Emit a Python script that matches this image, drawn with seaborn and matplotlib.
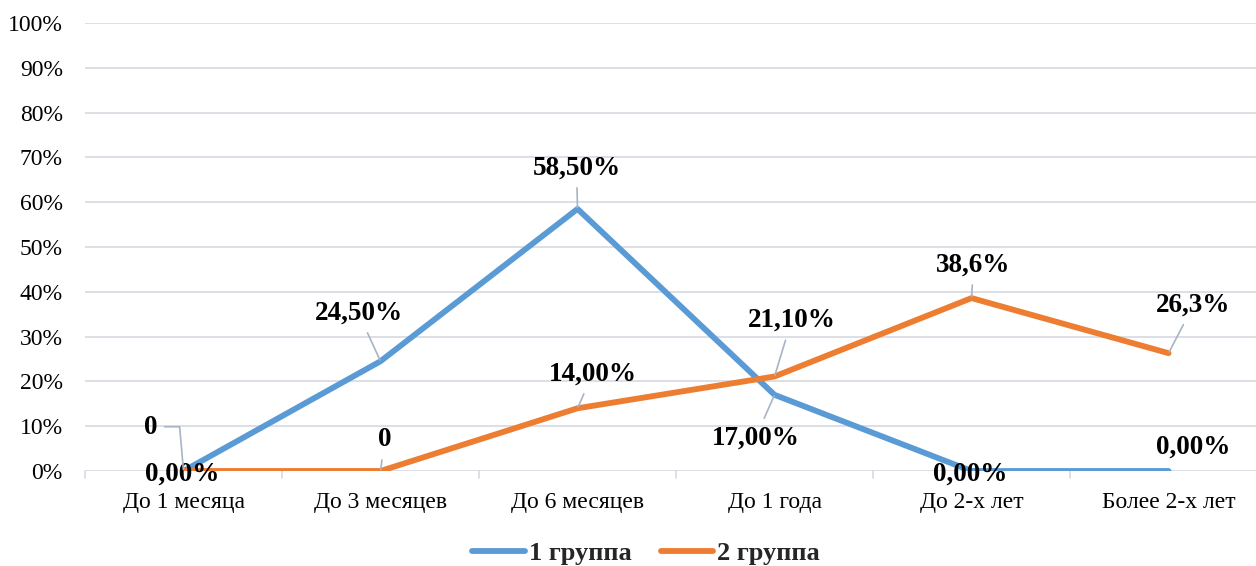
import matplotlib
matplotlib.use("Agg")
import matplotlib.pyplot as plt
import seaborn as sns
import pandas as pd
from matplotlib.lines import Line2D

categories = ["До 1 месяца", "До 3 месяцев", "До 6 месяцев",
              "До 1 года", "До 2-х лет", "Более 2-х лет"]
group1 = [0.0, 24.5, 58.5, 17.0, 0.0, 0.0]
group2 = [0.0, 0.0, 14.0, 21.1, 38.6, 26.3]
group1_labels = ["0,00%", "24,50%", "58,50%", "17,00%", "0,00%", "0,00%"]
group2_labels = ["0", "0", "14,00%", "21,10%", "38,6%", "26,3%"]
series_names = ["1 группа", "2 группа"]
y_ticks = [0, 10, 20, 30, 40, 50, 60, 70, 80, 90, 100]

BLUE = "#5B9BD5"
ORANGE = "#ED7D31"
GRID = "#D9DDE4"
LEADER = "#A6B4C6"

sns.set_theme(style="white")
plt.rcParams["font.family"] = ["Liberation Serif", "DejaVu Serif"]

df = pd.DataFrame({
    "cat": list(range(len(categories))) * 2,
    "value": group1 + group2,
    "series": [series_names[0]] * len(categories) + [series_names[1]] * len(categories),
})

fig = plt.figure(figsize=(12.56, 5.66), dpi=100)
ax = fig.add_axes([85 / 1256, 1 - 471 / 566, 1 - 85 / 1256, 448 / 566])

sns.lineplot(data=df, x="cat", y="value", hue="series",
             palette=[BLUE, ORANGE], linewidth=4.2, ax=ax,
             legend=False, solid_capstyle="round", solid_joinstyle="round",
             zorder=3)

ax.set_xlim(-0.5, 5.444)
ax.set_ylim(0, 100)
ax.set_yticks(y_ticks)
ax.set_yticklabels([f"{t}%" for t in y_ticks], fontsize=17)
ax.set_xticks(range(len(categories)))
ax.set_xticklabels(categories, fontsize=17)
ax.set_xlabel("")
ax.set_ylabel("")
ax.tick_params(axis="both", length=0, colors="#000000")
ax.tick_params(axis="y", pad=16)
ax.tick_params(axis="x", pad=15)

# gridlines
for t in y_ticks:
    ax.axhline(t, color=GRID, linewidth=1.3, zorder=1)
# category boundary tick marks below the axis
for b in [i - 0.5 for i in range(len(categories) + 1)]:
    ax.plot([b, b], [0, -1.6], color=GRID, linewidth=1.3, clip_on=False, zorder=1)

for s in ax.spines.values():
    s.set_visible(False)

# data labels: offsets in pixels from the point
g1_off = [(-1, -3), (-22, 48), (-1, 41), (-19, -43), (-1, -3), (25, 24)]
g1_lead = [None, "arc3", "arc3", "arc3", None, None]
g2_off = [(-33, 43), (4, 31), (15, 34), (17, 56), (2, 33), (25, 48)]
g2_lead = ["angle,angleA=0,angleB=95,rad=0", "arc3", "arc3", "arc3", "arc3", "arc3"]


def put_labels(vals, labels, offs, leads):
    for i, (v, lab, off, lead) in enumerate(zip(vals, labels, offs, leads)):
        kw = {}
        if lead:
            props = dict(arrowstyle="-", color=LEADER, lw=1.2,
                         shrinkA=3, shrinkB=1, connectionstyle=lead)
            if lead.startswith("angle"):
                props["relpos"] = (1.0, 0.55)
            kw["arrowprops"] = props
        ax.annotate(lab, xy=(i, v), xytext=off, textcoords="offset pixels",
                    ha="center", va="center", fontsize=19.5, fontweight="bold",
                    color="black", zorder=5, annotation_clip=False, **kw)


put_labels(group1, group1_labels, g1_off, g1_lead)
put_labels(group2, group2_labels, g2_off, g2_lead)

handles = [Line2D([0], [0], color=BLUE, lw=4.2, solid_capstyle="round"),
           Line2D([0], [0], color=ORANGE, lw=4.2, solid_capstyle="round")]
fig.legend(handles, series_names, loc="center", bbox_to_anchor=(646 / 1256, 1 - 553 / 566),
           ncol=2, frameon=False, handlelength=2.0, handletextpad=0.15,
           columnspacing=1.1, prop={"weight": "bold", "size": 19})

fig.savefig("out.png", dpi=100)
